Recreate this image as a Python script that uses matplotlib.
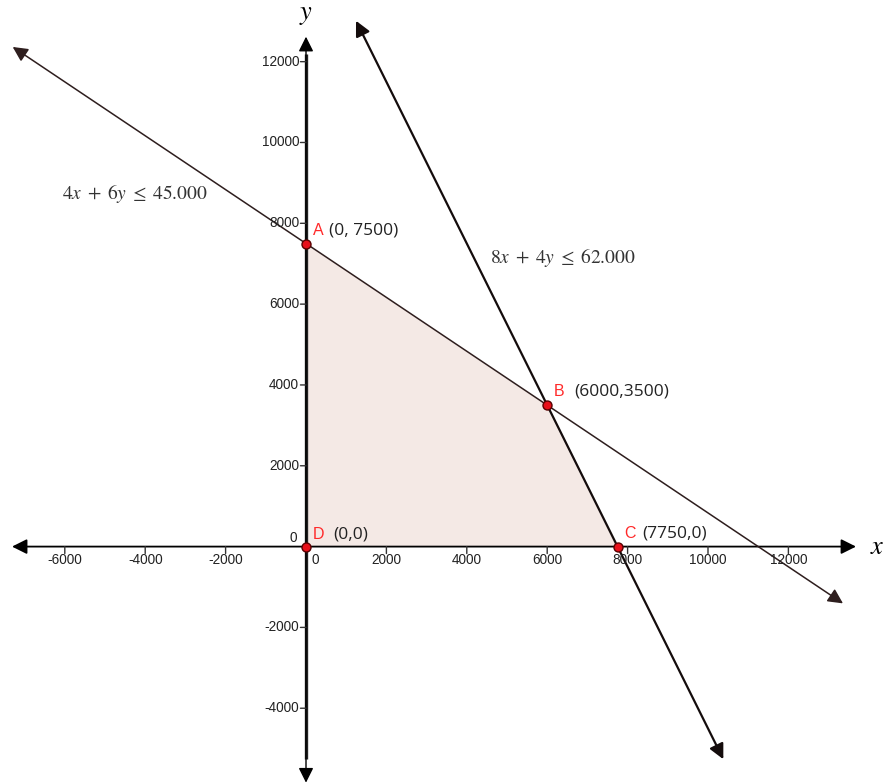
import matplotlib
matplotlib.use("Agg")
import matplotlib.pyplot as plt
from matplotlib.patches import Polygon, FancyArrowPatch
import numpy as np

plt.rcParams['mathtext.fontset'] = 'stix'

# ---- data ----
constraint1 = (4, 6, 45000)        # 4x + 6y <= 45000
constraint2 = (8, 4, 62000)        # 8x + 4y <= 62000
line1_x_ends = [-7296, 13358]
line2_x_ends = [1244, 10381]
label1 = r"$4x\;+\;6y\;\leq\;45.000$"
label2 = r"$8x\;+\;4y\;\leq\;62.000$"
vertex_names = ["A", "B", "C", "D"]
vertex_x = [0, 6000, 7750, 0]
vertex_y = [7500, 3500, 0, 0]
vertex_text = ["(0, 7500)", "(6000,3500)", "(7750,0)", "(0,0)"]
xticks = [-6000, -4000, -2000, 2000, 4000, 6000, 8000, 10000, 12000]
yticks = [-4000, -2000, 2000, 4000, 6000, 8000, 10000, 12000]
xaxis_ends = [-7313, 13682]
yaxis_ends = [-5842, 12618]

fig = plt.figure(figsize=(8.86, 7.84), dpi=100)
ax = fig.add_axes([0, 0, 1, 1])
ax.set_xlim(-7612, 14428)
ax.set_ylim(-5875, 13526)
ax.axis('off')

# feasible region
poly_order = [3, 0, 1, 2]
poly = Polygon([(vertex_x[i], vertex_y[i]) for i in poly_order], closed=True,
               facecolor='#f4e9e5', edgecolor='none', zorder=1)
ax.add_patch(poly)

# axes with arrows
def arrow(p0, p1, lw, color='black', z=3):
    a = FancyArrowPatch(p0, p1, arrowstyle='<|-|>,head_length=9,head_width=4.5',
                        mutation_scale=1, lw=lw, color=color, zorder=z,
                        shrinkA=0, shrinkB=0)
    ax.add_patch(a)

arrow((xaxis_ends[0], 0), (xaxis_ends[1], 0), 1.3)
# y axis: thick part plus thin part at bottom
ax.plot([0, 0], [-5250, 12200], color='#222222', lw=2.4, zorder=3,
        solid_capstyle='butt')
arrow((0, yaxis_ends[0]), (0, yaxis_ends[1]), 1.0)

# constraint lines
def yline(c, xs):
    a, b, r = c
    return [(r - a * x) / b for x in xs]

y1 = yline(constraint1, line1_x_ends)
y2 = yline(constraint2, line2_x_ends)
arrow((line1_x_ends[0], y1[0]), (line1_x_ends[1], y1[1]), 1.1, color='#2e1e1e')
arrow((line2_x_ends[0], y2[0]), (line2_x_ends[1], y2[1]), 1.6, color='#140c0c')

# ticks
tick_font = dict(family='Liberation Sans', fontsize=9.8, color='#222222')
for xt in xticks:
    ax.annotate('', xy=(xt, 0), xytext=(0, -5), textcoords='offset points',
                arrowprops=dict(arrowstyle='-', lw=1.0, color='#333333',
                                shrinkA=0, shrinkB=0))
    ax.annotate(str(xt), xy=(xt, 0), xytext=(0, -10), textcoords='offset points',
                ha='center', va='center', **tick_font)
for yt in yticks:
    ax.annotate('', xy=(0, yt), xytext=(-4, 0), textcoords='offset points',
                arrowprops=dict(arrowstyle='-', lw=1.0, color='#333333',
                                shrinkA=0, shrinkB=0))
    ax.annotate(str(yt), xy=(0, yt), xytext=(-5, 0), textcoords='offset points',
                ha='right', va='center', **tick_font)
ax.annotate('0', xy=(0, 0), xytext=(7, -10), textcoords='offset points',
            ha='center', va='center', **tick_font)
ax.annotate('0', xy=(0, 0), xytext=(-9, 6.5), textcoords='offset points',
            ha='center', va='center', **tick_font)

# axis labels
ax.annotate(r"$x$", xy=(xaxis_ends[1], 0), xytext=(15, 0), textcoords='offset points',
            ha='center', va='center', fontsize=19)
ax.annotate(r"$y$", xy=(0, yaxis_ends[1]), xytext=(0, 16), textcoords='offset points',
            ha='center', va='center', fontsize=19)

# constraint labels
ax.text(-6070, 8726, label1, fontsize=14, ha='left', va='center', color='#333333')
ax.text(4577, 7166, label2, fontsize=14, ha='left', va='center', color='#333333')

# vertices
letter_off = {"A": (5, 9.5), "B": (4.5, 9.5), "C": (5, 9.5), "D": (5, 8.5)}
text_off = {"A": (16.5, 9.5), "B": (19.5, 9.5), "C": (17.5, 9.5), "D": (19.5, 8.5)}
ax.scatter(vertex_x, vertex_y, s=42, facecolor='#e8101a', edgecolor='#5a0000',
           linewidths=1.0, zorder=5)
for n, xv, yv, t in zip(vertex_names, vertex_x, vertex_y, vertex_text):
    ax.annotate(n, xy=(xv, yv), xytext=letter_off[n], textcoords='offset points',
                ha='left', va='center', color='#ff2a2a', family='Liberation Sans',
                fontsize=11.5)
    ax.annotate(t, xy=(xv, yv), xytext=text_off[n], textcoords='offset points',
                ha='left', va='center', color='#222222', family='Open Sans',
                fontsize=12.5)

fig.savefig('out.png', dpi=100)
